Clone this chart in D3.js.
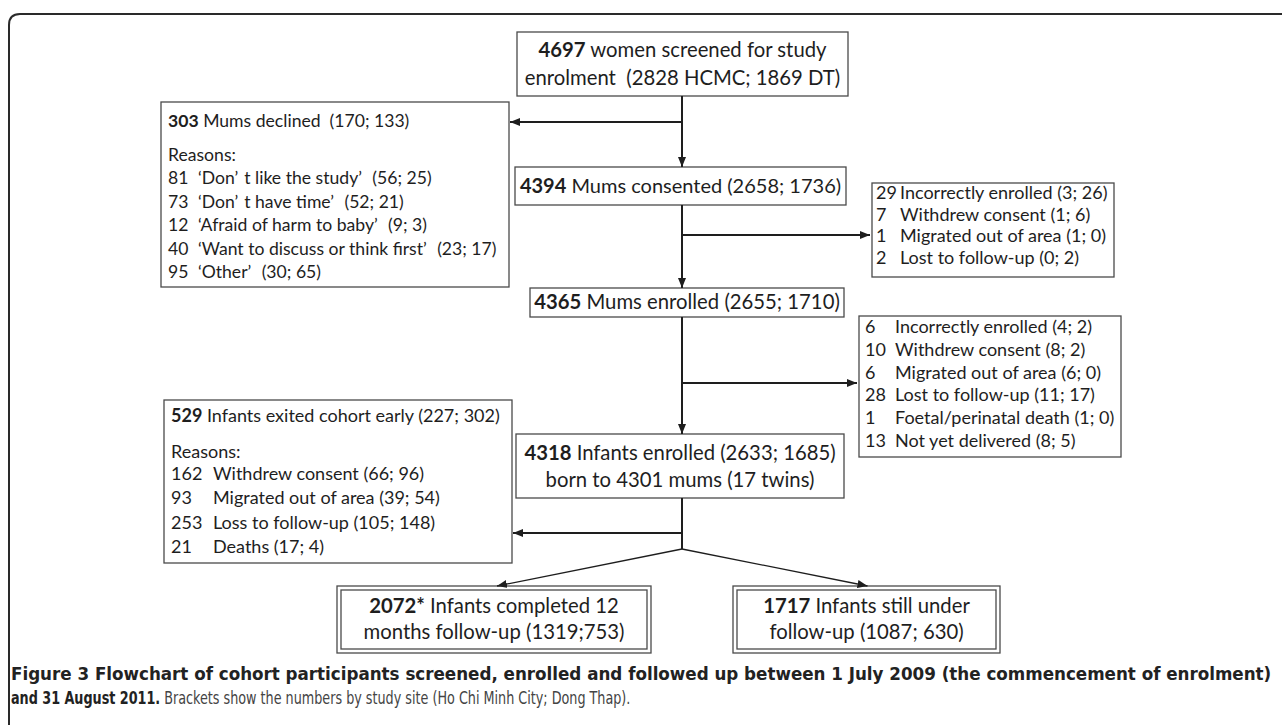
<!DOCTYPE html>
<html><head><meta charset="utf-8">
<script src="https://cdn.jsdelivr.net/npm/d3@7"></script>
<style>body{margin:0;background:#fff} svg{display:block}</style>
</head><body><div id="chart"></div>
<script>
// main trunk: screened, consented, enrolled mums, enrolled infants
const stageTotals = [4697, 4394, 4365, 4318];
const stageHCMC = [2828, 2658, 2655, 2633];
const stageDT = [1869, 1736, 1710, 1685];
const mumsDelivered = 4301, twinPairs = 17;

// mums who declined
const declinedTotals = [303, 170, 133];
const declinedReasons = ["‘Don’t like the study’", "‘Don’t have time’", "‘Afraid of harm to baby’", "‘Want to discuss or think first’", "‘Other’"];
const declinedN = [81, 73, 12, 40, 95];
const declinedHCMC = [56, 52, 9, 23, 30];
const declinedDT = [25, 21, 3, 17, 65];

// lost between consent and enrolment
const excl1Reasons = ["Incorrectly enrolled", "Withdrew consent", "Migrated out of area", "Lost to follow-up"];
const excl1N = [29, 7, 1, 2];
const excl1HCMC = [3, 1, 1, 0];
const excl1DT = [26, 6, 0, 2];

// lost between enrolment and birth
const excl2Reasons = ["Incorrectly enrolled", "Withdrew consent", "Migrated out of area", "Lost to follow-up", "Foetal/perinatal death", "Not yet delivered"];
const excl2N = [6, 10, 6, 28, 1, 13];
const excl2HCMC = [4, 8, 6, 11, 1, 8];
const excl2DT = [2, 2, 0, 17, 0, 5];

// infants who left the cohort
const exitTotals = [529, 227, 302];
const exitReasons = ["Withdrew consent", "Migrated out of area", "Loss to follow-up", "Deaths"];
const exitN = [162, 93, 253, 21];
const exitHCMC = [66, 39, 105, 17];
const exitDT = [96, 54, 148, 4];

// final outcomes
const outcomeN = ["2072*", "1717"];
const outcomeHCMC = [1319, 1087];
const outcomeDT = [753, 630];

const W = 1282, H = 725;
const svg = d3.select("#chart").append("svg").attr("width", W).attr("height", H)
  .style("font-family", "Lato, 'Open Sans', sans-serif").attr("fill", "#1e1e1e");

svg.append("defs").append("marker")
  .attr("id", "arr").attr("markerUnits", "userSpaceOnUse")
  .attr("markerWidth", 10).attr("markerHeight", 8).attr("refX", 10).attr("refY", 4)
  .attr("orient", "auto")
  .append("path").attr("d", "M0,0 L10,4 L0,8 z").attr("fill", "#1e1e1e");

// outer frame with rounded top-left corner
svg.append("path")
  .attr("d", "M9,740 L9,25 Q9,14 20,14 L1300,14")
  .attr("fill", "none").attr("stroke", "#2a2a2a").attr("stroke-width", 2);

const boxes = {
  A: { x: 517, y: 32, w: 331, h: 64 },
  L1: { x: 161, y: 102, w: 348, h: 185 },
  B: { x: 515, y: 167, w: 331, h: 38 },
  R1: { x: 872, y: 183, w: 242, h: 94 },
  C: { x: 530, y: 288, w: 314, h: 29 },
  R2: { x: 859, y: 316, w: 262, h: 141 },
  D: { x: 516, y: 434, w: 328, h: 64 },
  L2: { x: 164, y: 400, w: 348, h: 163 },
  E: { x: 337, y: 586, w: 314, h: 67, dbl: true },
  F: { x: 733, y: 586, w: 267, h: 67, dbl: true }
};

const gBox = svg.append("g");
Object.values(boxes).forEach(b => {
  gBox.append("rect").attr("x", b.x).attr("y", b.y).attr("width", b.w).attr("height", b.h)
    .attr("fill", "#fff").attr("stroke", "#4a4a4a").attr("stroke-width", 1.3);
  if (b.dbl) {
    gBox.append("rect").attr("x", b.x + 4).attr("y", b.y + 4).attr("width", b.w - 8).attr("height", b.h - 8)
      .attr("fill", "none").attr("stroke", "#4a4a4a").attr("stroke-width", 1.3);
  }
});

// connectors
const trunkX = 682, splitY = 549;
const cx = b => b.x + b.w / 2;
const links = [
  { p: [[trunkX, boxes.A.y + boxes.A.h], [trunkX, boxes.B.y]], a: true },
  { p: [[trunkX, 122], [boxes.L1.x + boxes.L1.w + 1, 122]], a: true },
  { p: [[trunkX, boxes.B.y + boxes.B.h], [trunkX, boxes.C.y]], a: true },
  { p: [[trunkX, 235], [boxes.R1.x - 2, 235]], a: true },
  { p: [[trunkX, boxes.C.y + boxes.C.h], [trunkX, boxes.D.y]], a: true },
  { p: [[trunkX, 383], [boxes.R2.x - 2, 383]], a: true },
  { p: [[trunkX, boxes.D.y + boxes.D.h], [trunkX, splitY]], a: false },
  { p: [[trunkX, 533], [boxes.L2.x + boxes.L2.w + 1, 533]], a: true },
  { p: [[trunkX, splitY], [cx(boxes.E) + 3, boxes.E.y]], a: true, thin: true },
  { p: [[trunkX, splitY], [cx(boxes.F) + 1, boxes.F.y]], a: true, thin: true }
];
const line = d3.line();
svg.append("g").selectAll("path").data(links).enter().append("path")
  .attr("d", d => line(d.p))
  .attr("fill", "none").attr("stroke", "#1e1e1e")
  .attr("stroke-width", d => d.thin ? 1.3 : 2)
  .attr("marker-end", d => d.a ? "url(#arr)" : null);

// text helper: parts = [[text, bold]]; curly quotes are drawn wide, as in the original
function addText(x, y, parts, opts) {
  const t = svg.append("text").attr("x", x).attr("y", y)
    .attr("font-size", opts.size).attr("text-anchor", opts.anchor || "start")
    .attr("xml:space", "preserve").style("white-space", "pre");
  let pad = 0;
  parts.forEach(([s, bold]) => {
    s.split(/([‘’])/).filter(k => k.length).forEach(k => {
      const sp = t.append("tspan").text(k).attr("font-weight", bold ? 700 : 400);
      if (k === "‘") sp.attr("dx", 5);
      else if (pad) sp.attr("dx", pad);
      pad = k === "’" ? 6 : 0;
    });
  });
  return t;
}

const mainSize = 20.3, sideSize = 18, l1Size = 17.6;
const brk = (a, b, sep) => `(${a};${sep === undefined ? " " : sep}${b})`;

// A
addText(cx(boxes.A), 57, [[String(stageTotals[0]), true], [" women screened for study", false]], { size: mainSize, anchor: "middle" });
addText(cx(boxes.A), 85, [[`enrolment  (${stageHCMC[0]} HCMC; ${stageDT[0]} DT)`, false]], { size: mainSize, anchor: "middle" });

// L1
const l1x = boxes.L1.x + 7;
addText(l1x, 127, [[String(declinedTotals[0]), true], [` Mums declined  ${brk(declinedTotals[1], declinedTotals[2])}`, false]], { size: l1Size });
addText(l1x, 161, [["Reasons:", false]], { size: l1Size });
declinedReasons.forEach((r, i) => {
  addText(l1x, 184 + i * 23.5, [[`${declinedN[i]} ${r} ${brk(declinedHCMC[i], declinedDT[i])}`, false]], { size: l1Size });
});

// B, C
addText(cx(boxes.B), 193, [[String(stageTotals[1]), true], [` Mums consented ${brk(stageHCMC[1], stageDT[1])}`, false]], { size: 20, anchor: "middle" });
addText(cx(boxes.C), 309, [[String(stageTotals[2]), true], [` Mums enrolled ${brk(stageHCMC[2], stageDT[2])}`, false]], { size: mainSize, anchor: "middle" });

// R1
excl1Reasons.forEach((r, i) => {
  const y = 199 + i * 21.7;
  addText(boxes.R1.x + 4, y, [[String(excl1N[i]), false]], { size: sideSize });
  addText(boxes.R1.x + 28, y, [[`${r} ${brk(excl1HCMC[i], excl1DT[i])}`, false]], { size: sideSize });
});

// R2
excl2Reasons.forEach((r, i) => {
  const y = 333 + i * 22.8;
  addText(boxes.R2.x + 6, y, [[String(excl2N[i]), false]], { size: sideSize });
  addText(boxes.R2.x + 36, y, [[`${r} ${brk(excl2HCMC[i], excl2DT[i])}`, false]], { size: sideSize });
});

// D
addText(cx(boxes.D), 460, [[String(stageTotals[3]), true], [` Infants enrolled ${brk(stageHCMC[3], stageDT[3])}`, false]], { size: mainSize, anchor: "middle" });
addText(cx(boxes.D), 487, [[`born to ${mumsDelivered} mums (${twinPairs} twins)`, false]], { size: mainSize, anchor: "middle" });

// L2
const l2x = boxes.L2.x + 7;
addText(l2x, 422, [[String(exitTotals[0]), true], [` Infants exited cohort early ${brk(exitTotals[1], exitTotals[2])}`, false]], { size: sideSize });
addText(l2x, 458, [["Reasons:", false]], { size: sideSize });
exitReasons.forEach((r, i) => {
  const y = 480 + i * 24.3;
  addText(l2x, y, [[String(exitN[i]), false]], { size: sideSize });
  addText(l2x + 42, y, [[`${r} ${brk(exitHCMC[i], exitDT[i])}`, false]], { size: sideSize });
});

// E, F
addText(cx(boxes.E), 613, [[outcomeN[0], true], [" Infants completed 12", false]], { size: mainSize, anchor: "middle" });
addText(cx(boxes.E), 639, [[`months follow-up ${brk(outcomeHCMC[0], outcomeDT[0], "")}`, false]], { size: mainSize, anchor: "middle" });
addText(cx(boxes.F), 613, [[outcomeN[1], true], [" Infants still under", false]], { size: mainSize, anchor: "middle" });
addText(cx(boxes.F), 639, [[`follow-up ${brk(outcomeHCMC[1], outcomeDT[1])}`, false]], { size: mainSize, anchor: "middle" });

// caption: condensed by a horizontal scale so each line spans the width it has in the original
const capFont = "'Liberation Sans Narrow', 'DejaVu Sans Condensed', sans-serif";
function captionLine(y, width, parts) {
  const g = svg.append("g");
  const t = g.append("text").attr("x", 0).attr("y", 0).attr("font-size", 17.5)
    .style("font-family", capFont).attr("xml:space", "preserve").style("white-space", "pre");
  parts.forEach(([s, bold]) => {
    t.append("tspan").text(s).attr("font-weight", bold ? 700 : 400).attr("fill", bold ? "#222" : "#444");
  });
  const sx = width / t.node().getComputedTextLength();
  g.attr("transform", `translate(11,${y}) scale(${sx},1)`);
}
captionLine(680, 1261, [["Figure 3 Flowchart of cohort participants screened, enrolled and followed up between 1 July 2009 (the commencement of enrolment)", true]]);
captionLine(704, 620, [["and 31 August 2011.", true], [" Brackets show the numbers by study site (Ho Chi Minh City; Dong Thap).", false]]);
</script>
</body></html>
